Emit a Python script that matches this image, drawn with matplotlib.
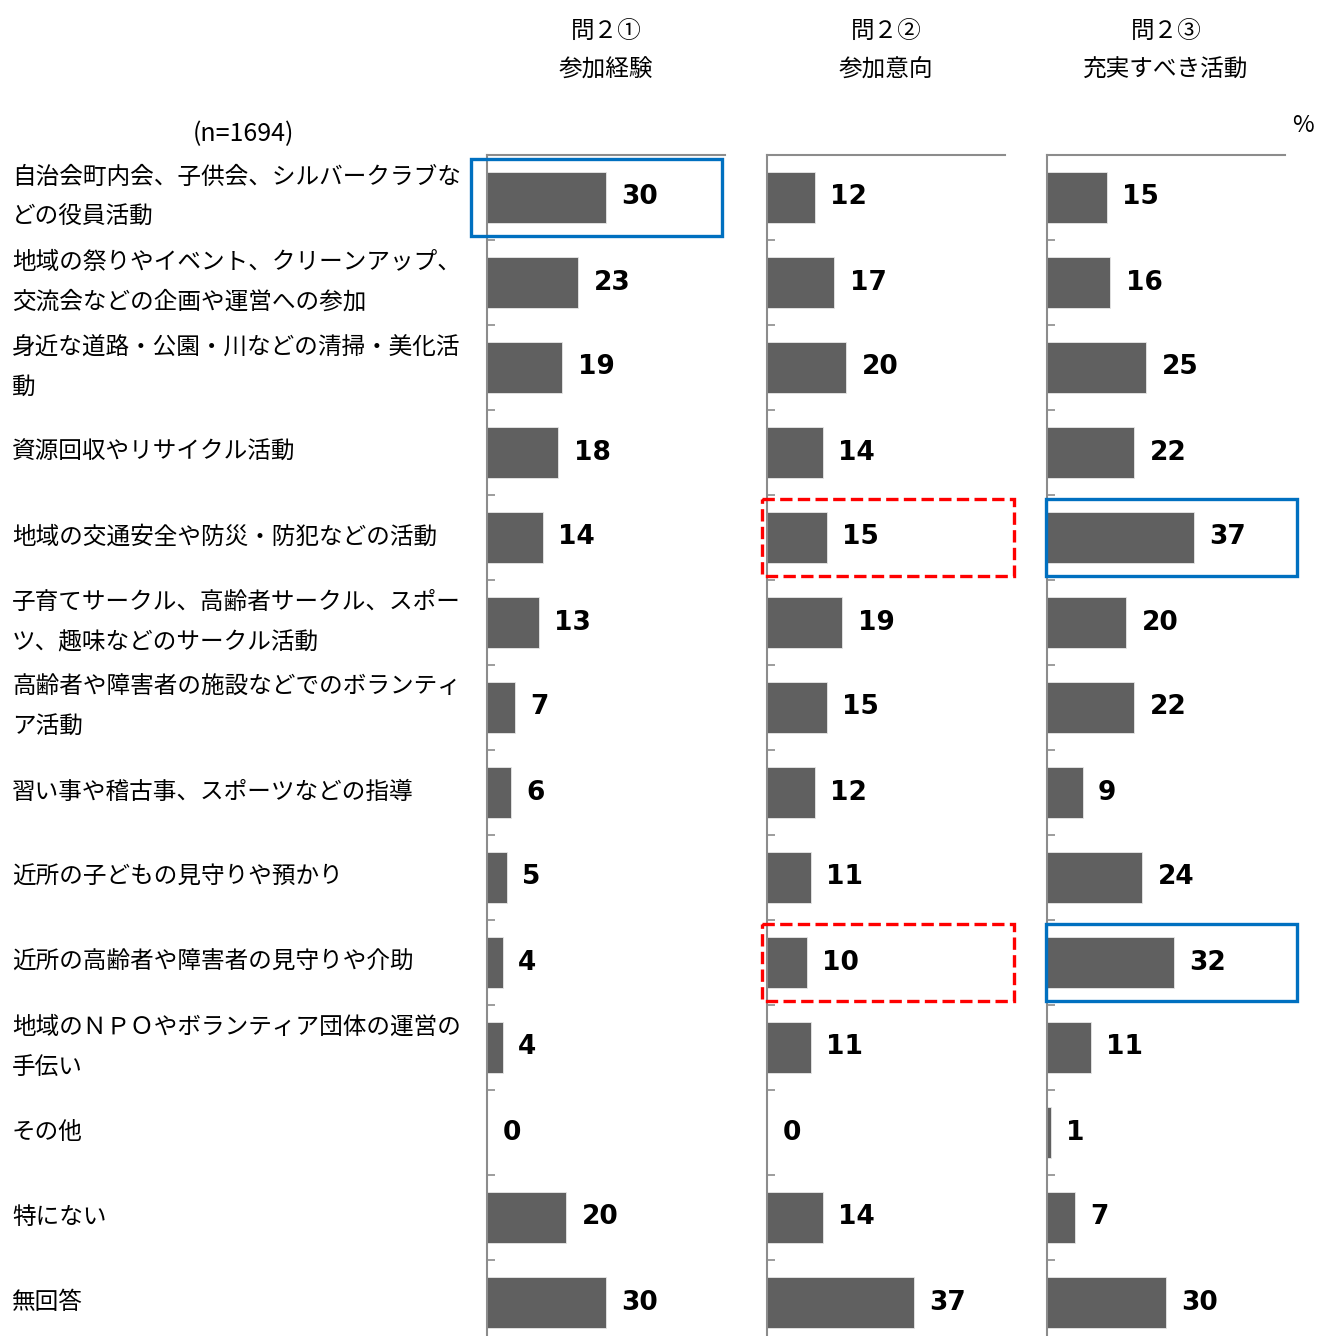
import matplotlib.pyplot as plt
import numpy as np
from matplotlib.patches import Rectangle
from matplotlib.transforms import blended_transform_factory

plt.rcParams['font.family'] = ['Noto Sans CJK JP', 'DejaVu Sans']

# データ
categories = [
    "自治会町内会、子供会、シルバークラブな\nどの役員活動",
    "地域の祭りやイベント、クリーンアップ、\n交流会などの企画や運営への参加",
    "身近な道路・公園・川などの清掃・美化活\n動",
    "資源回収やリサイクル活動",
    "地域の交通安全や防災・防犯などの活動",
    "子育てサークル、高齢者サークル、スポー\nツ、趣味などのサークル活動",
    "高齢者や障害者の施設などでのボランティ\nア活動",
    "習い事や稽古事、スポーツなどの指導",
    "近所の子どもの見守りや預かり",
    "近所の高齢者や障害者の見守りや介助",
    "地域のＮＰＯやボランティア団体の運営の\n手伝い",
    "その他",
    "特にない",
    "無回答",
]
headers = ["問２①\n参加経験", "問２②\n参加意向", "問２③\n充実すべき活動"]
experience = [30, 23, 19, 18, 14, 13, 7, 6, 5, 4, 4, 0, 20, 30]
intention = [12, 17, 20, 14, 15, 19, 15, 12, 11, 10, 11, 0, 14, 37]
enhance = [15, 16, 25, 22, 37, 20, 22, 9, 24, 32, 11, 1, 7, 30]
series = [experience, intention, enhance]

# 強調枠: (パネル, 行, 色, 線種)
highlights = [(0, 0, '#0070C0', '-'), (1, 4, '#FF0000', '--'), (1, 9, '#FF0000', '--'),
              (2, 4, '#0070C0', '-'), (2, 9, '#0070C0', '-')]

W, H = 1319, 1336
fig = plt.figure(figsize=(W / 100, H / 100), dpi=100)
y = np.arange(len(categories))
lefts = [487, 767, 1047]
axes = []
for i, vals in enumerate(series):
    ax = fig.add_axes([lefts[i] / W, (H - 1345) / H, 238 / W, (1345 - 155) / H])
    ax.barh(y, vals, height=0.6, color='#606060', edgecolor='#e8e8e8', linewidth=0.6)
    ax.set_xlim(0, 60)
    ax.set_ylim(len(categories) - 0.5, -0.5)
    for s in ['right', 'bottom']:
        ax.spines[s].set_visible(False)
    for s in ['left', 'top']:
        ax.spines[s].set_color('#8c8c8c')
        ax.spines[s].set_linewidth(1.5)
    ax.set_xticks([])
    ax.set_yticks(np.arange(0.5, len(categories) - 1, 1))
    ax.set_yticklabels([])
    ax.tick_params(axis='y', direction='in', length=6, width=1.2, color='#8c8c8c')
    for yi, v in zip(y, vals):
        ax.annotate(str(v), (v, yi), xytext=(11, 0), textcoords='offset points',
                    ha='left', va='center', fontsize=19, fontweight='bold',
                    family='DejaVu Sans', color='black')
    ax.text(0.5, (H - 51) / H, headers[i], transform=blended_transform_factory(ax.transAxes, fig.transFigure),
            ha='center', va='center', fontsize=17, linespacing=1.9)
    axes.append(ax)

# 強調枠
box_x = {0: (-4.0, 59.3), 1: (-1.3, 62.3), 2: (-0.3, 63.0)}
for p, r, c, ls in highlights:
    x0, x1 = box_x[p]
    rect = Rectangle((x0, r - 0.45), x1 - x0, 0.9, fill=False, edgecolor=c,
                     linewidth=2.4, linestyle=ls, clip_on=False, zorder=5)
    axes[p].add_patch(rect)

# 項目ラベル
tr = blended_transform_factory(fig.transFigure, axes[0].transData)
for yi, lab in zip(y, categories):
    fig.text(12 / W, yi, lab, transform=tr, ha='left', va='center',
             fontsize=17, linespacing=1.95)

fig.text(243 / W, 1 - 134 / H, "(n=1694)", ha='center', va='center', fontsize=18)
fig.text(1303 / W, 1 - 126 / H, "%", ha='center', va='center', fontsize=17)

fig.savefig('out.png', dpi=100)
